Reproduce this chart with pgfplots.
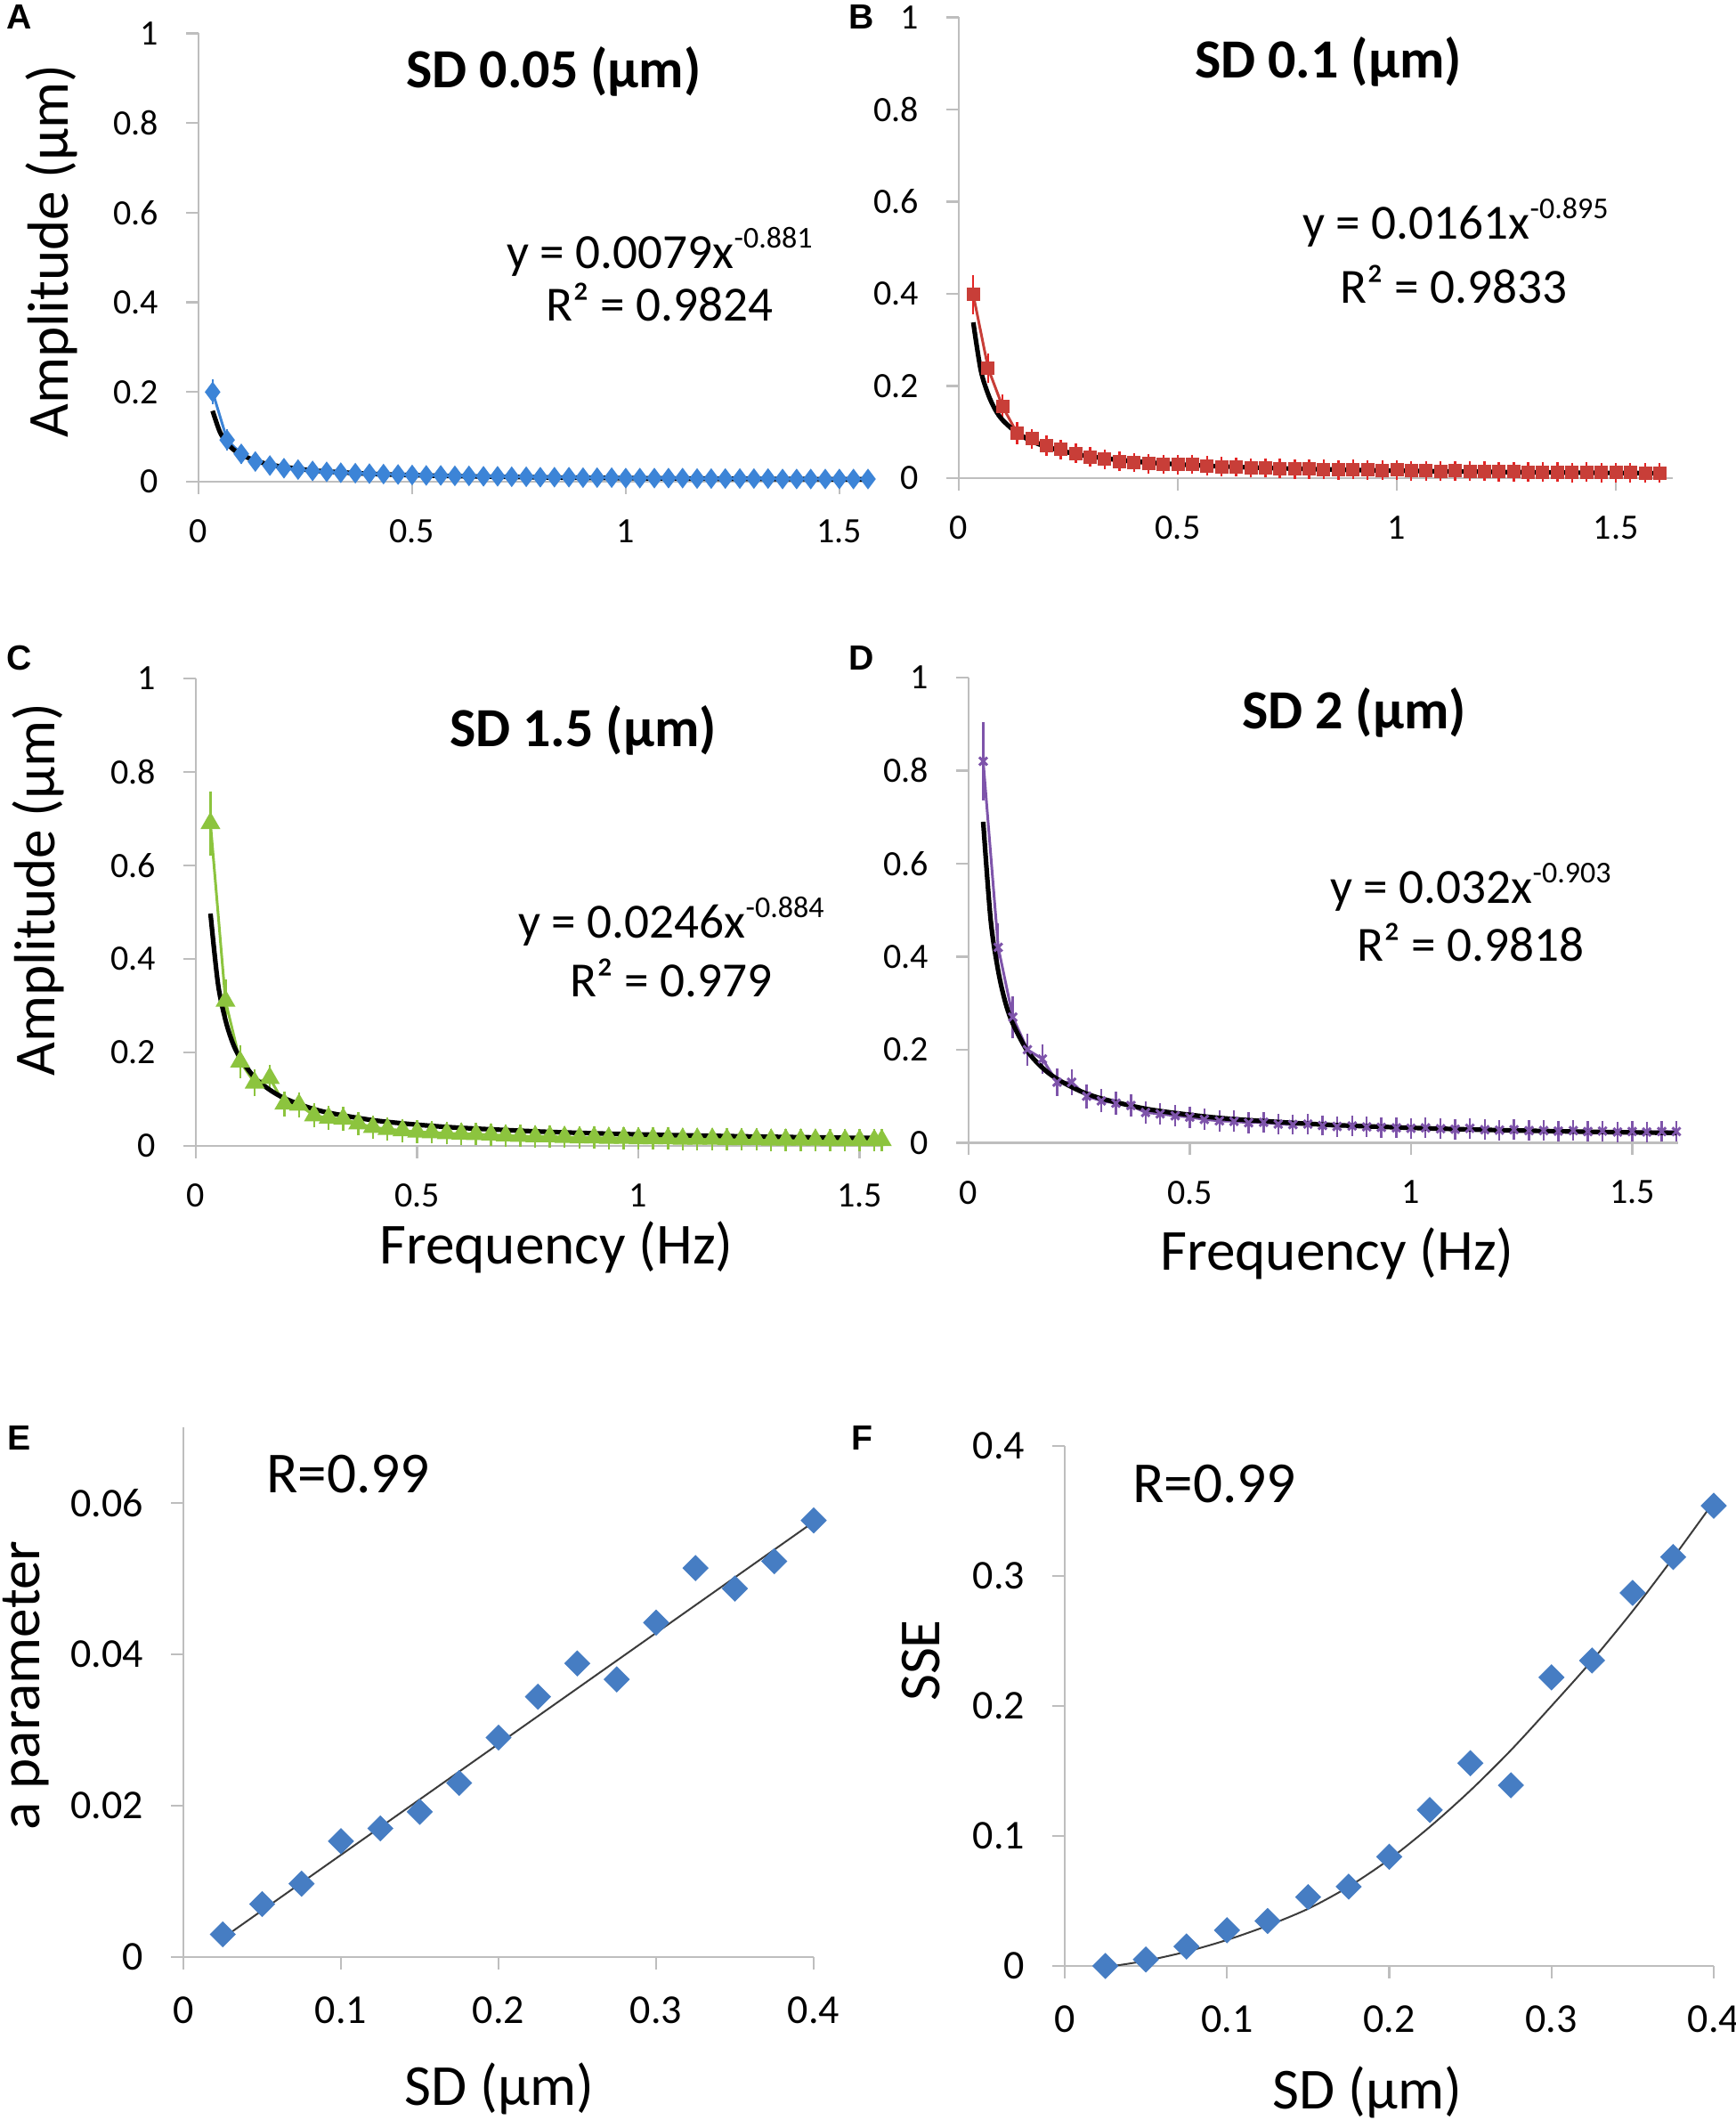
\documentclass[border=0pt]{standalone}
\usepackage{fontspec}
\setmainfont{Carlito}
\newfontfamily\letterfont{Liberation Sans}
\usepackage{pgfplots}
\usepackage{pgfplotstable}
\pgfplotsset{compat=1.18}

\newcommand\fs[1]{\fontsize{#1}{#1}\selectfont}
\newcommand\sups[1]{\raisebox{0.42em}{\fs{8.5pt}#1}}

\definecolor{axisgray}{RGB}{190,190,190}
\definecolor{serA}{RGB}{60,132,215}
\definecolor{serB}{RGB}{200,62,56}
\definecolor{errB}{RGB}{228,36,36}
\definecolor{serC}{RGB}{140,196,62}
\definecolor{serD}{RGB}{126,84,170}
\definecolor{serE}{RGB}{70,125,195}
\definecolor{fitgray}{RGB}{60,60,60}

% amplitude spectra: frequency, mean amplitude, error
\pgfplotstableread{
x y e
0.033 0.200 0.010
0.067 0.093 0.006
0.100 0.062 0.004
0.133 0.045 0.003
0.167 0.036 0.003
0.200 0.030 0.002
0.233 0.027 0.002
0.267 0.024 0.002
0.300 0.022 0.002
0.333 0.020 0.002
0.367 0.019 0.002
0.400 0.018 0.002
0.433 0.017 0.002
0.467 0.016 0.002
0.500 0.015 0.002
0.533 0.014 0.002
0.567 0.014 0.002
0.600 0.013 0.002
0.633 0.013 0.002
0.667 0.012 0.002
0.700 0.012 0.002
0.733 0.011 0.002
0.767 0.011 0.002
0.800 0.010 0.002
0.833 0.010 0.002
0.867 0.010 0.002
0.900 0.009 0.002
0.933 0.009 0.002
0.967 0.009 0.002
1.000 0.008 0.002
1.033 0.008 0.002
1.067 0.008 0.002
1.100 0.008 0.002
1.133 0.008 0.002
1.167 0.007 0.002
1.200 0.007 0.002
1.233 0.007 0.002
1.267 0.007 0.002
1.300 0.007 0.002
1.333 0.007 0.002
1.367 0.006 0.002
1.400 0.006 0.002
1.433 0.006 0.002
1.467 0.006 0.002
1.500 0.006 0.002
1.533 0.006 0.002
1.567 0.006 0.002
}\dataA

\pgfplotstableread{
x y e
0.033 0.398 0.025
0.067 0.238 0.015
0.100 0.155 0.010
0.133 0.098 0.007
0.167 0.085 0.005
0.200 0.070 0.005
0.233 0.062 0.004
0.267 0.054 0.004
0.300 0.046 0.004
0.333 0.041 0.004
0.367 0.036 0.004
0.400 0.034 0.004
0.433 0.031 0.004
0.467 0.030 0.004
0.500 0.029 0.004
0.533 0.030 0.004
0.567 0.027 0.004
0.600 0.025 0.004
0.633 0.024 0.004
0.667 0.022 0.004
0.700 0.022 0.004
0.733 0.021 0.004
0.767 0.020 0.004
0.800 0.020 0.004
0.833 0.019 0.004
0.867 0.018 0.004
0.900 0.019 0.004
0.933 0.018 0.004
0.967 0.017 0.004
1.000 0.018 0.004
1.033 0.016 0.004
1.067 0.016 0.004
1.100 0.015 0.004
1.133 0.016 0.004
1.167 0.015 0.004
1.200 0.015 0.004
1.233 0.014 0.004
1.267 0.014 0.004
1.300 0.013 0.004
1.333 0.013 0.004
1.367 0.013 0.004
1.400 0.012 0.004
1.433 0.013 0.004
1.467 0.012 0.004
1.500 0.012 0.004
1.533 0.012 0.004
1.567 0.011 0.004
1.600 0.011 0.004
}\dataB

\pgfplotstableread{
x y e
0.033 0.690 0.052
0.067 0.310 0.030
0.100 0.180 0.018
0.133 0.135 0.012
0.167 0.145 0.012
0.200 0.090 0.010
0.233 0.088 0.010
0.267 0.065 0.009
0.300 0.060 0.009
0.333 0.058 0.009
0.367 0.048 0.008
0.400 0.040 0.008
0.433 0.036 0.008
0.467 0.033 0.008
0.500 0.030 0.008
0.533 0.029 0.007
0.567 0.027 0.007
0.600 0.026 0.007
0.633 0.025 0.007
0.667 0.024 0.007
0.700 0.022 0.007
0.733 0.021 0.007
0.767 0.020 0.007
0.800 0.020 0.007
0.833 0.019 0.007
0.867 0.018 0.007
0.900 0.018 0.007
0.933 0.017 0.007
0.967 0.017 0.007
1.000 0.016 0.007
1.033 0.016 0.007
1.067 0.016 0.007
1.100 0.015 0.007
1.133 0.015 0.007
1.167 0.015 0.007
1.200 0.014 0.007
1.233 0.014 0.007
1.267 0.014 0.007
1.300 0.013 0.007
1.333 0.013 0.007
1.367 0.013 0.007
1.400 0.013 0.007
1.433 0.012 0.007
1.467 0.012 0.007
1.500 0.012 0.007
1.533 0.012 0.007
1.550 0.012 0.007
}\dataC

\pgfplotstableread{
x y e
0.033 0.820 0.067
0.067 0.420 0.035
0.100 0.270 0.028
0.133 0.200 0.018
0.167 0.180 0.015
0.200 0.130 0.012
0.233 0.130 0.010
0.267 0.100 0.009
0.300 0.090 0.008
0.333 0.085 0.008
0.367 0.080 0.007
0.400 0.065 0.007
0.433 0.062 0.006
0.467 0.058 0.006
0.500 0.055 0.006
0.533 0.050 0.006
0.567 0.047 0.006
0.600 0.046 0.006
0.633 0.043 0.006
0.667 0.044 0.005
0.700 0.040 0.005
0.733 0.039 0.005
0.767 0.040 0.005
0.800 0.037 0.005
0.833 0.035 0.005
0.867 0.036 0.005
0.900 0.034 0.005
0.933 0.033 0.005
0.967 0.032 0.005
1.000 0.031 0.005
1.033 0.032 0.005
1.067 0.030 0.005
1.100 0.029 0.005
1.133 0.031 0.005
1.167 0.028 0.005
1.200 0.027 0.005
1.233 0.028 0.005
1.267 0.026 0.005
1.300 0.026 0.005
1.333 0.025 0.005
1.367 0.026 0.005
1.400 0.024 0.005
1.433 0.025 0.005
1.467 0.023 0.005
1.500 0.024 0.005
1.533 0.023 0.005
1.567 0.024 0.005
1.600 0.024 0.005
}\dataD

\pgfplotsset{
  excel/.style={
    scale only axis,
    anchor=south west,
    axis x line*=bottom,
    axis y line*=left,
    axis line style={draw=axisgray, line width=0.6pt},
    tick align=outside,
    major tick length=3.5pt,
    every tick/.style={draw=axisgray, line width=0.6pt},
    xmin=0, ymin=0,
    clip=false,
    /pgf/number format/assume math mode=true,
    ticklabel style={inner sep=0pt},
  },
  spectrum/.style={
    excel,
    xmax=#1,
    ymax=1,
    xtick={0,0.5,1,1.5},
    ytick={0,0.2,0.4,0.6,0.8,1},
    ticklabel style={font=\fs{10pt}},
    xticklabel style={anchor=north, yshift=-7pt},
    yticklabel style={anchor=east, xshift=-7.5pt},
  },
  scatter/.style={
    excel,
    xmax=0.4,
    xtick={0,0.1,0.2,0.3,0.4},
    ticklabel style={font=\fs{11.5pt}},
    xticklabel style={anchor=north, yshift=-7.5pt},
    yticklabel style={anchor=east, xshift=-7.5pt},
    scaled y ticks=false,
    yticklabel style={/pgf/number format/fixed, /pgf/number format/precision=2},
  },
  data line/.style 2 args={
    line width=0.75pt, color=#1,
    error bars/y dir=both,
    error bars/y explicit,
    error bars/error bar style={line width=0.6pt, #2},
    error bars/error mark options={mark size=2.2pt, line width=0.6pt, #2},
  },
  trend/.style={black, line width=1.3pt, smooth, no marks},
}

\begin{document}
\begin{tikzpicture}
\useasboundingbox (0,0) rectangle (487.5pt,595.25pt);

% ---------------- A
\begin{axis}[spectrum=1.567, at={(55.75pt,460pt)}, width=188pt, height=125.9pt]
\addplot[data line={serA}{serA}, mark=diamond*, mark size=2.3pt, mark options={solid, fill=serA}]
  table[x=x, y=y, y error=e] {\dataA};
\addplot[trend] coordinates {
  (0.033,0.158) (0.05,0.111) (0.067,0.086) (0.083,0.0706) (0.1,0.060)
  (0.133,0.047) (0.167,0.038) (0.2,0.033) (0.25,0.0268) (0.3,0.0228)
  (0.4,0.0177) (0.5,0.0146) (0.6,0.0124) (0.8,0.0096) (1.0,0.0079)
  (1.2,0.0067) (1.4,0.0059) (1.567,0.0053)};
\end{axis}

% ---------------- B
\begin{axis}[spectrum=1.63, at={(269.25pt,461pt)}, width=200.5pt, height=129.4pt]
\addplot[data line={serB}{errB}, mark=square*, mark size=1.5pt, mark options={solid, fill=serB}]
  table[x=x, y=y, y error=e] {\dataB};
\addplot[trend] coordinates {
  (0.033,0.338) (0.05,0.235) (0.067,0.182) (0.083,0.149) (0.1,0.126)
  (0.133,0.098) (0.167,0.080) (0.2,0.068) (0.25,0.0557) (0.3,0.047)
  (0.4,0.0365) (0.5,0.030) (0.6,0.0254) (0.8,0.0197) (1.0,0.0161)
  (1.2,0.0137) (1.4,0.0119) (1.6,0.0106)};
\end{axis}

% ---------------- C
\begin{axis}[spectrum=1.551, at={(55pt,273.5pt)}, width=192.75pt, height=131.25pt]
\addplot[data line={serC}{serC}, mark=triangle*, mark size=2.5pt, mark options={solid, fill=serC}]
  table[x=x, y=y, y error=e] {\dataC};
\addplot[trend] coordinates {
  (0.033,0.497) (0.05,0.347) (0.067,0.269) (0.083,0.221) (0.1,0.188)
  (0.133,0.146) (0.167,0.120) (0.2,0.102) (0.25,0.0837) (0.3,0.071)
  (0.4,0.055) (0.5,0.0454) (0.6,0.0386) (0.8,0.0299) (1.0,0.0246)
  (1.2,0.021) (1.4,0.0182) (1.55,0.0167)};
\end{axis}

% ---------------- D
\begin{axis}[spectrum=1.604, at={(272pt,274.4pt)}, width=199.25pt, height=130.6pt]
\addplot[data line={serD}{serD}, mark=x, mark size=1.6pt, mark options={solid}]
  table[x=x, y=y, y error=e] {\dataD};
\addplot[trend] coordinates {
  (0.033,0.690) (0.05,0.478) (0.067,0.369) (0.083,0.302) (0.1,0.256)
  (0.133,0.197) (0.167,0.161) (0.2,0.137) (0.25,0.112) (0.3,0.095)
  (0.4,0.073) (0.5,0.060) (0.6,0.0507) (0.8,0.0391) (1.0,0.032)
  (1.2,0.027) (1.4,0.0236) (1.6,0.0209)};
\end{axis}

% ---------------- E
\begin{axis}[scatter, at={(51.5pt,45.75pt)}, width=177pt, height=148.75pt,
  ymax=0.07, ytick={0,0.02,0.04,0.06}]
\addplot[fitgray, line width=0.5pt] coordinates {(0.025,0.0025) (0.4,0.0575)};
\addplot[only marks, mark=square*, mark size=2.4pt, color=serE,
  mark options={rotate=45, fill=serE}] coordinates {
  (0.025,0.0030) (0.050,0.0070) (0.075,0.0097) (0.100,0.0153)
  (0.125,0.0170) (0.150,0.0192) (0.175,0.0230) (0.200,0.0290)
  (0.225,0.0344) (0.250,0.0388) (0.275,0.0367) (0.300,0.0442)
  (0.325,0.0514) (0.350,0.0487) (0.375,0.0523) (0.400,0.0577)};
\end{axis}

% ---------------- F
\begin{axis}[scatter, at={(299pt,43.25pt)}, width=182.25pt, height=146pt,
  ymax=0.4, ytick={0,0.1,0.2,0.3,0.4}]
\addplot[fitgray, line width=0.5pt, smooth] coordinates {
  (0.03,0.000) (0.05,0.004) (0.075,0.011) (0.1,0.020) (0.125,0.031)
  (0.15,0.044) (0.175,0.061) (0.2,0.082) (0.225,0.107) (0.25,0.135)
  (0.275,0.166) (0.3,0.200) (0.325,0.235) (0.35,0.273) (0.375,0.314)
  (0.4,0.357)};
\addplot[only marks, mark=square*, mark size=2.4pt, color=serE,
  mark options={rotate=45, fill=serE}] coordinates {
  (0.025,0.000) (0.050,0.005) (0.075,0.015) (0.100,0.0275)
  (0.125,0.0346) (0.150,0.053) (0.175,0.061) (0.200,0.084)
  (0.225,0.120) (0.250,0.156) (0.275,0.139) (0.300,0.222)
  (0.325,0.235) (0.350,0.287) (0.375,0.3146) (0.400,0.354)};
\end{axis}

% ---------------- panel letters
\begin{scope}[every node/.style={font=\letterfont\bfseries\fs{9.8pt}, inner sep=0pt}]
\node at (5.5pt,590.5pt) {A};
\node at (242pt,590.5pt) {B};
\node at (5.5pt,410.5pt) {C};
\node at (242pt,410.5pt) {D};
\node at (5.5pt,191.5pt) {E};
\node at (242pt,191.5pt) {F};
\end{scope}

% ---------------- titles
\begin{scope}[every node/.style={font=\bfseries\fs{15.5pt}, inner sep=0pt, anchor=base}]
\node at (155.5pt,570.5pt) {SD 0.05 (µm)};
\node at (373pt,573.25pt) {SD 0.1 (µm)};
\node at (163.75pt,385.5pt) {SD 1.5 (µm)};
\node at (380.25pt,390.5pt) {SD 2 (µm)};
\end{scope}

% ---------------- fit equations
\begin{scope}[every node/.style={font=\fs{13.8pt}, inner sep=0pt, anchor=base}]
\node at (185.25pt,519.75pt) {y = 0.0079x\sups{-0.881}};
\node at (185.25pt,505pt) {R² = 0.9824};
\node at (408.75pt,528pt) {y = 0.0161x\sups{-0.895}};
\node at (408.25pt,510pt) {R² = 0.9833};
\node at (188.5pt,331.75pt) {y = 0.0246x\sups{-0.884}};
\node at (188.5pt,315.25pt) {R² = 0.979};
\node at (413pt,341.5pt) {y = 0.032x\sups{-0.903}};
\node at (413pt,325.25pt) {R² = 0.9818};
\end{scope}

% ---------------- axis labels
\begin{scope}[every node/.style={font=\fs{16.3pt}, inner sep=0pt, anchor=base}]
\node[rotate=90] at (19.25pt,524.75pt) {Amplitude (µm)};
\node[rotate=90] at (15.5pt,345.5pt) {Amplitude (µm)};
\node at (156.25pt,240.25pt) {Frequency (Hz)};
\node at (375.5pt,238.5pt) {Frequency (Hz)};
\node[rotate=90] at (11pt,122pt) {a parameter};
\node[rotate=90] at (263.75pt,129pt) {SSE};
\node at (140.25pt,4.25pt) {SD (µm)};
\node at (384pt,3pt) {SD (µm)};
\node at (97.75pt,176pt) {R=0.99};
\node at (341pt,173.25pt) {R=0.99};
\end{scope}
\end{tikzpicture}
\end{document}
